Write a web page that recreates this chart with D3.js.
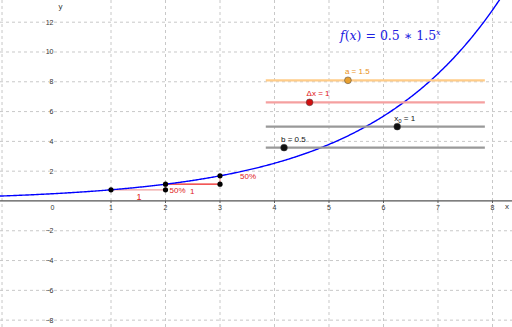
<!DOCTYPE html>
<html lang="en">
<head>
  <meta charset="UTF-8">
  <title>Exponential growth</title>
  <script src="https://d3js.org/d3.v7.min.js"></script>
  <style>
    body { margin: 0; background: #fff; }
    svg { display: block; font-family: "Liberation Sans", Arial, sans-serif; }
    .grid line { stroke: #c8c8c8; stroke-dasharray: 3,3; stroke-width: 1; }
    .tick-label { font-size: 7px; fill: #333; }
  </style>
</head>
<body>
  <div id="chart"></div>
  <script>
    // Data
    const xTicks = [-1, 0, 1, 2, 3, 4, 5, 6, 7, 8];
    const xTickLabels = ["", "0", "1", "2", "3", "4", "5", "6", "7", "8"];
    const yTicks = [-8, -6, -4, -2, 2, 4, 6, 8, 10, 12];
    const yTickLabels = ["−8", "−6", "−4", "−2", "2", "4", "6", "8", "10", "12"];

    const aVal = 1.5, bVal = 0.5, x0Val = 1, dxVal = 1;
    const curvePoints = [1, 2, 3];               // x values of points on the curve
    const stepBase = [[1, 0.75], [2, 1.125]];     // corner points below the curve

    // sliders: label, value, min, max, world y
    const sliderNames = ["a = 1.5", "Δx = 1", "x₀ = 1", "b = 0.5"];
    const sliderValues = [1.5, 1, 1, 0.5];
    const sliderMin = [0, 0, -5, 0];
    const sliderMax = [4, 5, 5, 6];
    const sliderY = [8.1, 6.62, 4.99, 3.58];

    const width = 512, height = 327;
    const x = d3.scaleLinear().domain([-1.037, 8.358]).range([0, width]);
    const y = d3.scaleLinear().domain([-8.46, 13.49]).range([height, 0]);

    const svg = d3.select("#chart").append("svg")
      .attr("width", width).attr("height", height);

    // grid
    const grid = svg.append("g").attr("class", "grid");
    grid.selectAll(".vx").data(xTicks.filter(d => d !== 0)).enter().append("line")
      .attr("x1", d => x(d)).attr("x2", d => x(d)).attr("y1", 0).attr("y2", height);
    grid.selectAll(".hy").data(yTicks).enter().append("line")
      .attr("y1", d => y(d)).attr("y2", d => y(d)).attr("x1", 0).attr("x2", width);

    // x axis
    svg.append("line")
      .attr("x1", 0).attr("x2", width).attr("y1", y(0)).attr("y2", y(0))
      .attr("stroke", "#555").attr("stroke-width", 1.2);
    svg.selectAll(".xt").data(xTicks.filter(d => d > 0)).enter().append("line")
      .attr("x1", d => x(d)).attr("x2", d => x(d))
      .attr("y1", y(0)).attr("y2", y(0) + 2).attr("stroke", "#555");
    svg.selectAll(".xl").data(xTicks).enter().append("text")
      .attr("class", "tick-label")
      .attr("x", d => d === 0 ? x(d) - 4 : x(d))
      .attr("y", y(0) + 9)
      .attr("text-anchor", "middle")
      .text((d, i) => xTickLabels[i]);
    svg.selectAll(".yl").data(yTicks).enter().append("text")
      .attr("class", "tick-label")
      .attr("x", x(0) - 3)
      .attr("y", d => y(d) + 2.5)
      .attr("text-anchor", "end")
      .text((d, i) => yTickLabels[i]);
    svg.append("text").attr("class", "tick-label").attr("x", x(0) + 2).attr("y", 9)
      .style("font-size", "8px").text("y");
    svg.append("text").attr("class", "tick-label").attr("x", width - 7).attr("y", y(0) + 8)
      .style("font-size", "8px").text("x");

    // step segments
    const f = t => bVal * Math.pow(aVal, t);
    svg.append("line")
      .attr("x1", x(1)).attr("x2", x(2)).attr("y1", y(0.75)).attr("y2", y(0.75))
      .attr("stroke", "#f0a0a0").attr("stroke-width", 1.2);
    svg.append("line")
      .attr("x1", x(2)).attr("x2", x(3)).attr("y1", y(f(2))).attr("y2", y(f(2)))
      .attr("stroke", "#ee2020").attr("stroke-width", 1.2);
    stepBase.forEach(([bx, by]) => {
      svg.append("line")
        .attr("x1", x(bx + dxVal)).attr("x2", x(bx + dxVal))
        .attr("y1", y(by)).attr("y2", y(f(bx + dxVal)))
        .attr("stroke", "#e88080").attr("stroke-width", 1);
    });

    // curve
    const xs = d3.range(-1.1, 8.4, 0.02);
    svg.append("path")
      .datum(xs)
      .attr("d", d3.line().x(d => x(d)).y(d => y(f(d))))
      .attr("fill", "none").attr("stroke", "#0000ff").attr("stroke-width", 1.4);

    // labels for the steps
    const red = "#e02020";
    svg.append("text").attr("x", x(2) + 4).attr("y", y(0.75) + 3).attr("fill", red)
      .style("font-size", "8px").text("50%");
    svg.append("text").attr("x", x(3) + 20).attr("y", y(1.6) + 2).attr("fill", red)
      .style("font-size", "8px").text("50%");
    svg.append("text").attr("x", x(2.45)).attr("y", y(0.5)).attr("fill", red)
      .style("font-size", "8px").text("1");
    svg.append("text").attr("x", x(1.47)).attr("y", y(0.05)).attr("fill", red)
      .style("font-size", "9px").text("1");

    // points
    const pts = curvePoints.map(t => [t, f(t)]).concat([[2, 0.75], [3, f(2)]]);
    svg.selectAll(".pt").data(pts).enter().append("circle")
      .attr("cx", d => x(d[0])).attr("cy", d => y(d[1])).attr("r", 2.6)
      .attr("fill", "#000");

    // sliders
    const sliderLine = ["#ffcc88", "#f5a0a0", "#999", "#999"];
    const sliderPoint = ["#e8a030", "#d01010", "#111", "#111"];
    const sliderText = ["#e89020", "#e01010", "#111", "#111"];
    const sx0 = 3.84, sx1 = 7.86;
    sliderNames.forEach((name, i) => {
      const pos = x(sx0) + (sliderValues[i] - sliderMin[i]) / (sliderMax[i] - sliderMin[i]) * (x(sx1) - x(sx0));
      svg.append("line")
        .attr("x1", x(sx0)).attr("x2", x(sx1)).attr("y1", y(sliderY[i])).attr("y2", y(sliderY[i]))
        .attr("stroke", sliderLine[i]).attr("stroke-width", 2.2);
      svg.append("circle").attr("cx", pos).attr("cy", y(sliderY[i])).attr("r", 3.4)
        .attr("fill", sliderPoint[i]).attr("stroke", "#444").attr("stroke-width", 1)
        .attr("stroke-opacity", 0.5);
      const t = svg.append("text").attr("x", pos - 3).attr("y", y(sliderY[i]) - 6)
        .attr("fill", sliderText[i]).style("font-size", "8px");
      if (name.startsWith("x₀")) {
        t.append("tspan").text("x");
        t.append("tspan").attr("dy", 2).style("font-size", "6px").text("0");
        t.append("tspan").attr("dy", -2).text(" = 1");
      } else {
        t.text(name);
      }
    });

    // formula
    const ft = svg.append("text").attr("x", 340).attr("y", 40).attr("fill", "#2020e0")
      .style("font-family", "'DejaVu Serif', 'Liberation Serif', serif").style("font-size", "12.5px");
    ft.append("tspan").style("font-style", "italic").text("f");
    ft.append("tspan").text("(");
    ft.append("tspan").style("font-style", "italic").text("x");
    ft.append("tspan").text(") = 0.5 ∗ 1.5");
    ft.append("tspan").attr("dy", -5).style("font-size", "8px").style("font-style", "italic").text("x");
  </script>
</body>
</html>
